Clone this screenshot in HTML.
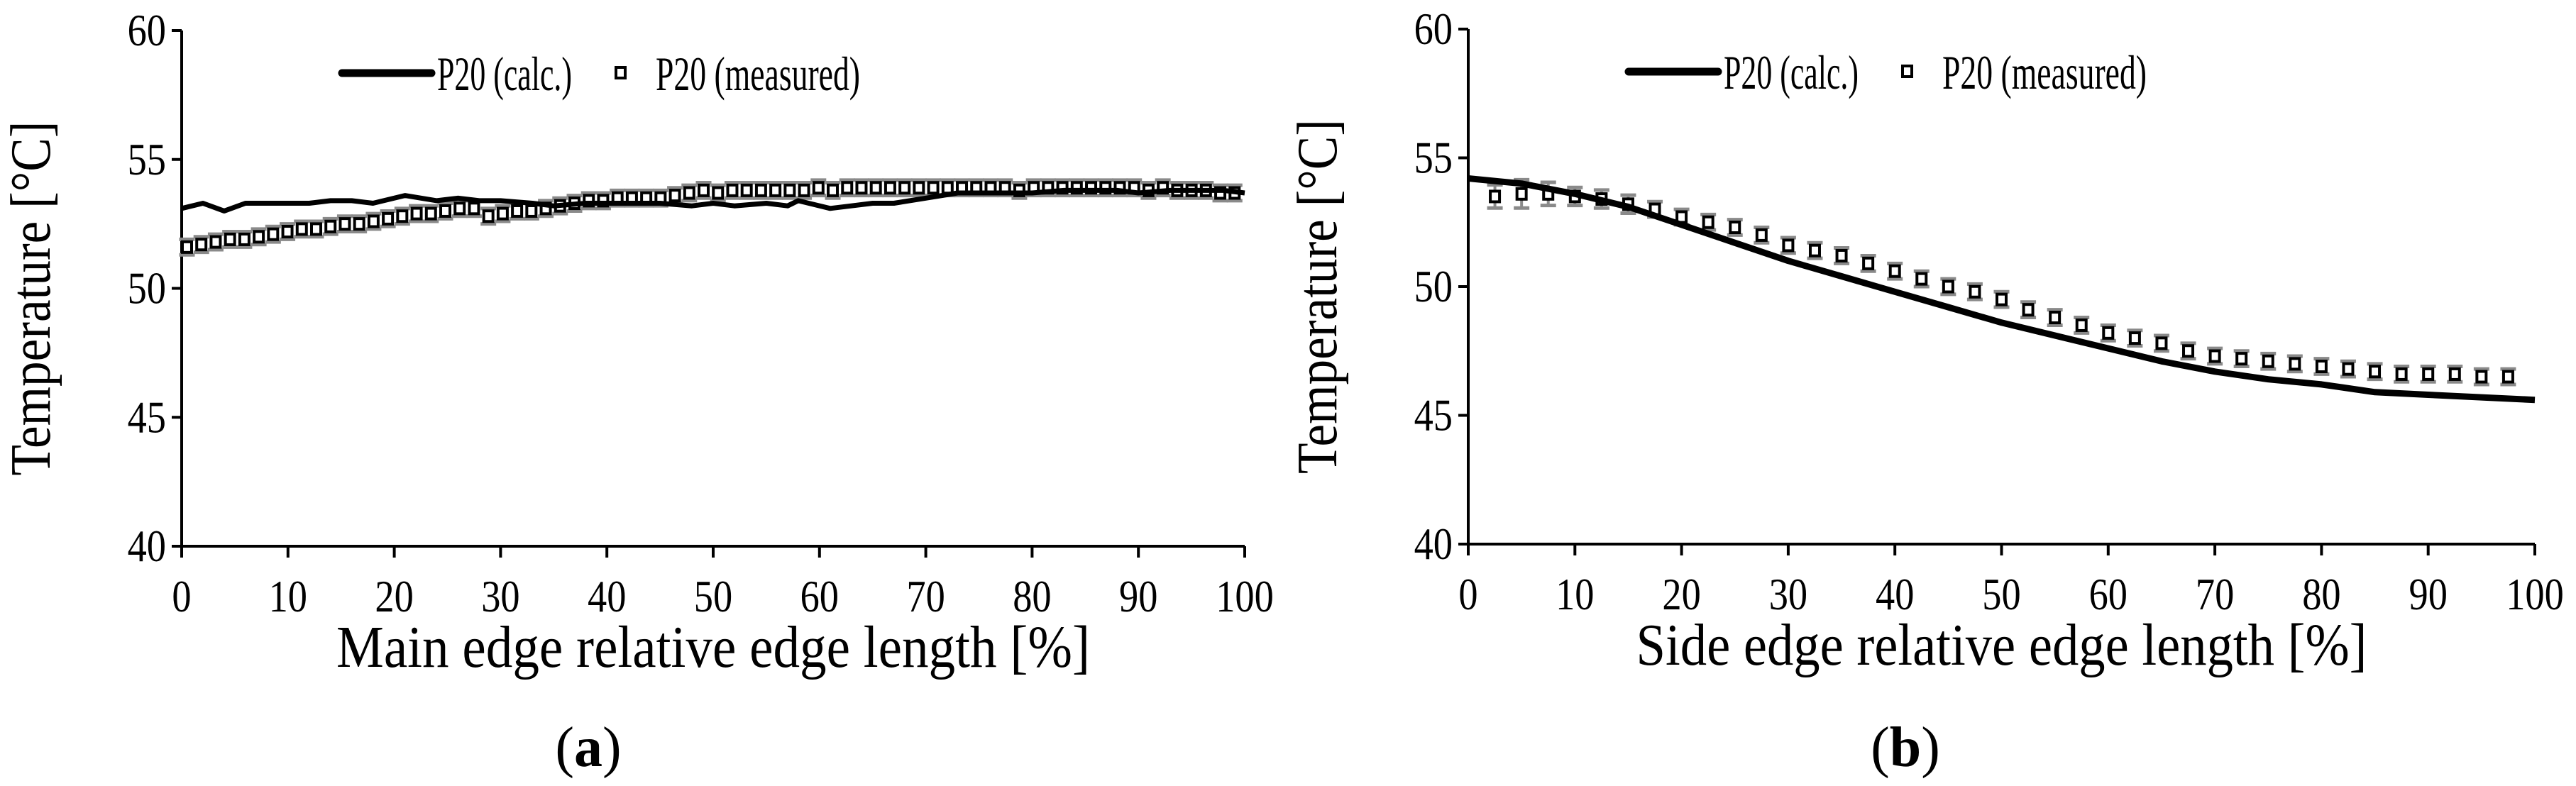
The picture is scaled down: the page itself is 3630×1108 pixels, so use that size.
<!DOCTYPE html>
<html><head><meta charset="utf-8">
<style>
html,body{margin:0;padding:0;background:#fff;}
svg{display:block;}
text{font-family:"Liberation Serif",serif;fill:#000;}
</style></head>
<body>
<svg id="fig" width="3630" height="1108" viewBox="0 0 3630 1108" xmlns="http://www.w3.org/2000/svg"></svg>
<script>
// ---- Chart (a) data ----
const aCalcX = [0,2,4,6,8,10,12,14,16,18,21,24,26,28,30,33,35,38,40,43,45,48,50,52,55,57,58,61,63,65,67,70,73,75,78,80,83,85,88,90,93,95,98,100];
const aCalcY = [53.1,53.3,53.0,53.3,53.3,53.3,53.3,53.4,53.4,53.3,53.6,53.4,53.5,53.4,53.4,53.3,53.2,53.3,53.3,53.3,53.3,53.2,53.3,53.2,53.3,53.2,53.4,53.1,53.2,53.3,53.3,53.5,53.7,53.7,53.7,53.7,53.8,53.8,53.8,53.7,53.8,53.8,53.8,53.7];
const aMeasStart = 0.5;
const aMeasStep = 1.35;
const aMeasY = [51.6,51.7,51.8,51.9,51.9,52.0,52.1,52.2,52.3,52.3,52.4,52.5,52.5,52.6,52.7,52.8,52.9,52.9,53.0,53.1,53.1,52.8,52.9,53.0,53.0,53.1,53.2,53.3,53.4,53.4,53.5,53.5,53.5,53.5,53.6,53.7,53.8,53.7,53.8,53.8,53.8,53.8,53.8,53.8,53.9,53.8,53.9,53.9,53.9,53.9,53.9,53.9,53.9,53.9,53.9,53.9,53.9,53.9,53.8,53.9,53.9,53.9,53.9,53.9,53.9,53.9,53.9,53.8,53.9,53.8,53.8,53.8,53.7,53.7];
const aMeasErr = 0.3;
// ---- Chart (b) data ----
const bCalcX = [0,5,10,15,20,25,30,35,40,45,50,55,60,65,70,75,80,85,90,95,100];
const bCalcY = [54.2,54.0,53.6,53.1,52.4,51.7,51.0,50.4,49.8,49.2,48.6,48.1,47.6,47.1,46.7,46.4,46.2,45.9,45.8,45.7,45.6];
const bMeasX = [2.5,5,7.5,10,12.5,15,17.5,20,22.5,25,27.5,30,32.5,35,37.5,40,42.5,45,47.5,50,52.5,55,57.5,60,62.5,65,67.5,70,72.5,75,77.5,80,82.5,85,87.5,90,92.5,95,97.5];
const bMeasY = [53.5,53.6,53.6,53.5,53.4,53.2,53.0,52.7,52.5,52.3,52.0,51.6,51.4,51.2,50.9,50.6,50.3,50.0,49.8,49.5,49.1,48.8,48.5,48.2,48.0,47.8,47.5,47.3,47.2,47.1,47.0,46.9,46.8,46.7,46.6,46.6,46.6,46.5,46.5];
const bMeasErr = [0.45,0.55,0.45,0.35,0.35,0.35,0.3,0.3,0.3,0.3,0.3,0.3,0.3,0.3,0.3,0.3,0.3,0.3,0.3,0.3,0.3,0.3,0.3,0.3,0.3,0.3,0.3,0.3,0.3,0.3,0.3,0.3,0.3,0.3,0.3,0.3,0.3,0.3,0.3];
const xTicks = [0,10,20,30,40,50,60,70,80,90,100];
const yTicks = [40,45,50,55,60];

const NS = "http://www.w3.org/2000/svg";
const svg = document.getElementById('fig');
function mk(tag, attrs, parent){
  const e = document.createElementNS(NS, tag);
  for (const k in attrs) e.setAttribute(k, attrs[k]);
  (parent||svg).appendChild(e);
  return e;
}

function chart(o){
  const g = mk('g', {});
  
  
  const sx = v => o.x0 + (v/100)*(o.x1-o.x0);
  const sy = v => o.y1 - ((v-40)/20)*(o.y1-o.y0);
  const ax = mk('path', {d:`M${o.x0},${o.y0} V${o.y1} H${o.x1}`, fill:'none', stroke:'#000','stroke-width':4}, g);
  
  
  yTicks.forEach(t=>{
    mk('line',{x1:o.x0-14,x2:o.x0,y1:sy(t),y2:sy(t),stroke:'#000','stroke-width':4},g);
    const tx = mk('text',{x:0,y:0,'text-anchor':'end','font-size':64,transform:`translate(${o.x0-22},${sy(t)+21}) scale(0.85,1)`},g);
    tx.textContent = t;
    
    
  });
  xTicks.forEach(t=>{
    mk('line',{x1:sx(t),x2:sx(t),y1:o.y1,y2:o.y1+16,stroke:'#000','stroke-width':4},g);
    const tx = mk('text',{x:0,y:0,'text-anchor':'middle','font-size':64,transform:`translate(${sx(t)},${o.y1+92}) scale(0.85,1)`},g);
    tx.textContent = t;
    
    
  });
  const xt = mk('text',{x:(o.x0+o.x1)/2,y:o.y1+170,'text-anchor':'middle','font-size':84,textLength:o.xlen,lengthAdjust:'spacingAndGlyphs'},g);
  xt.textContent = o.xtitle;
  
  
  const yt = mk('text',{x:0,y:0,'text-anchor':'middle','font-size':80,textLength:500,lengthAdjust:'spacingAndGlyphs',transform:`translate(${o.x0-186},${(o.y0+o.y1)/2+14}) rotate(-90)`},g);
  yt.textContent = 'Temperature [°C]';
  
  
  const mg = mk('g',{},g);
  
  
  o.mx.forEach((xv,i)=>{
    const yv = o.my[i], er = o.me[i];
    const X = sx(xv);
    mk('line',{x1:X,x2:X,y1:sy(yv+er),y2:sy(yv-er),stroke:'#8a8a8a','stroke-width':4},mg);
    mk('line',{x1:X-11,x2:X+11,y1:sy(yv+er),y2:sy(yv+er),stroke:'#8a8a8a','stroke-width':5},mg);
    mk('line',{x1:X-11,x2:X+11,y1:sy(yv-er),y2:sy(yv-er),stroke:'#8a8a8a','stroke-width':5},mg);
  });
  const pts = o.cx.map((v,i)=>`${sx(v).toFixed(1)},${sy(o.cy[i]).toFixed(1)}`).join(' ');
  const pl = mk('polyline',{points:pts,fill:'none',stroke:'#000','stroke-width':o.lw,'stroke-linejoin':'round'},g);
  
  
  o.mx.forEach((xv,i)=>{
    const r = mk('rect',{x:sx(xv)-6.5,y:sy(o.my[i])-7.5,width:13,height:15,fill:'#fff',stroke:'#000','stroke-width':4},mg);
    
    
  });
  const lg = mk('g',{},g);
  
  
  mk('line',{x1:o.x0+226,x2:o.x0+352,y1:o.y0+60,y2:o.y0+60,stroke:'#000','stroke-width':11,'stroke-linecap':'round'},lg);
  const l1 = mk('text',{x:o.x0+360,y:o.y0+84,'font-size':68,textLength:190,lengthAdjust:'spacingAndGlyphs'},lg);
  l1.textContent = 'P20 (calc.)';
  
  
  mk('rect',{x:o.x0+612,y:o.y0+52,width:13,height:15,fill:'#fff',stroke:'#000','stroke-width':4},lg);
  const l2 = mk('text',{x:o.x0+668,y:o.y0+84,'font-size':68,textLength:288,lengthAdjust:'spacingAndGlyphs'},lg);
  l2.textContent = 'P20 (measured)';
  
  
  const cap = mk('text',{x:o.capX,y:1080,'text-anchor':'middle','font-size':80},g);
  cap.innerHTML = '(<tspan font-weight="bold">'+o.cap+'</tspan>)';
  
  
}

chart({name:'chart-a', x0:256, x1:1754, y0:43, y1:770, lw:7,
  cx:aCalcX, cy:aCalcY,
  mx:aMeasY.map((_,i)=>aMeasStart+i*aMeasStep), my:aMeasY, me:aMeasY.map(()=>aMeasErr),
  xtitle:'Main edge relative edge length [%]', xlen:1062, cap:'a', capX:829});
chart({name:'chart-b', x0:2069, x1:3572, y0:41, y1:767, lw:9,
  cx:bCalcX, cy:bCalcY, mx:bMeasX, my:bMeasY, me:bMeasErr,
  xtitle:'Side edge relative edge length [%]', xlen:1030, cap:'b', capX:2685});
</script>
</body></html>
